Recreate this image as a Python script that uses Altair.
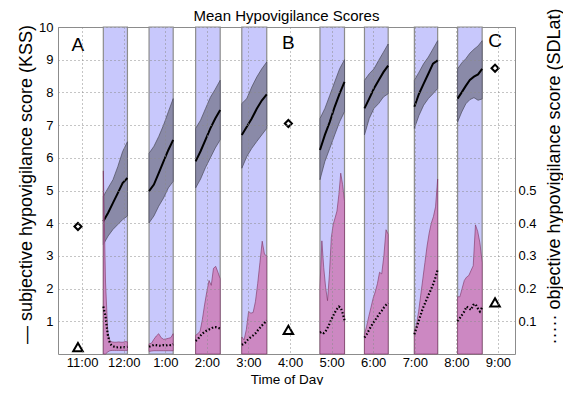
import altair as alt
import pandas as pd

# ---- driving sessions (hours of the day, 13 = 1 pm ... 21 = 9 pm)
band_start = [11.51, 12.61, 13.73, 14.84, 16.72, 17.79, 18.99, 20.03]
band_end = [12.09, 13.19, 14.32, 15.44, 17.31, 18.36, 19.55, 20.62]

# ---- subjective score (KSS): mean and band limits per session
kss_mean = [
    [4.06, 4.32, 4.62, 4.92, 5.23, 5.38],
    [4.98, 5.18, 5.53, 5.89, 6.24, 6.55],
    [5.89, 6.20, 6.55, 6.90, 7.20, 7.46],
    [6.70, 6.95, 7.20, 7.50, 7.75, 7.94],
    [6.24, 6.70, 7.10, 7.56, 7.96, 8.32],
    [7.51, 7.81, 8.12, 8.37, 8.62, 8.82],
    [7.56, 7.96, 8.27, 8.57, 8.88, 8.98],
    [7.81, 8.00, 8.20, 8.38, 8.48, 8.55, 8.72],
]
kss_hi = [
    [4.82, 5.08, 5.33, 5.73, 6.19, 6.49],
    [6.14, 6.35, 6.65, 7.00, 7.41, 7.81],
    [6.90, 7.15, 7.50, 7.85, 8.10, 8.37],
    [7.66, 7.81, 8.17, 8.47, 8.72, 8.93],
    [7.20, 7.51, 7.91, 8.32, 8.72, 9.00],
    [8.37, 8.57, 8.72, 8.98, 9.23, 9.48],
    [8.37, 8.62, 8.88, 9.08, 9.33, 9.58],
    [8.72, 8.90, 9.03, 9.20, 9.32, 9.42, 9.58],
]
kss_lo = [
    [3.35, 3.61, 3.81, 3.96, 4.11, 4.22],
    [4.01, 4.22, 4.52, 4.77, 5.08, 5.28],
    [5.08, 5.35, 5.70, 6.00, 6.30, 6.55],
    [5.68, 6.04, 6.29, 6.50, 6.70, 6.90],
    [5.33, 5.89, 6.29, 6.70, 7.10, 7.41],
    [6.70, 7.20, 7.51, 7.66, 7.86, 7.96],
    [6.90, 7.30, 7.61, 7.81, 7.96, 8.12],
    [7.10, 7.40, 7.65, 7.78, 7.84, 7.76, 7.80],
]

# ---- objective score (SDLat): mean and band limits per session
sd_mean = [
    [0.145, 0.115, 0.060, 0.032, 0.025, 0.022, 0.020, 0.021, 0.020, 0.020, 0.021, 0.022],
    [0.022, 0.025, 0.028, 0.027, 0.026, 0.025, 0.027, 0.026, 0.028, 0.027, 0.030],
    [0.040, 0.045, 0.055, 0.062, 0.068, 0.072, 0.075, 0.078, 0.082, 0.082, 0.080, 0.078],
    [0.028, 0.031, 0.038, 0.046, 0.052, 0.057, 0.063, 0.072, 0.080, 0.088, 0.095, 0.102],
    [0.065, 0.068, 0.064, 0.070, 0.080, 0.092, 0.105, 0.117, 0.128, 0.137, 0.145, 0.142, 0.125, 0.103],
    [0.050, 0.060, 0.072, 0.084, 0.095, 0.104, 0.114, 0.124, 0.132, 0.142, 0.150, 0.156],
    [0.060, 0.080, 0.100, 0.120, 0.140, 0.155, 0.170, 0.185, 0.200, 0.215, 0.235, 0.258],
    [0.100, 0.110, 0.120, 0.130, 0.145, 0.140, 0.135, 0.150, 0.153, 0.140, 0.130, 0.143],
]
sd_hi = [
    [0.560, 0.220, 0.070, 0.040, 0.037, 0.036, 0.036, 0.037, 0.036, 0.036, 0.038, 0.037],
    [0.031, 0.033, 0.045, 0.055, 0.062, 0.050, 0.045, 0.046, 0.048, 0.050, 0.062],
    [0.057, 0.062, 0.070, 0.105, 0.150, 0.190, 0.225, 0.210, 0.262, 0.268, 0.250, 0.230],
    [0.052, 0.043, 0.075, 0.130, 0.125, 0.127, 0.160, 0.215, 0.280, 0.345, 0.305, 0.300],
    [0.204, 0.346, 0.264, 0.204, 0.163, 0.244, 0.356, 0.396, 0.416, 0.437, 0.487, 0.553, 0.518, 0.467],
    [0.060, 0.085, 0.115, 0.142, 0.170, 0.190, 0.215, 0.250, 0.245, 0.300, 0.380, 0.366],
    [0.070, 0.090, 0.130, 0.180, 0.230, 0.280, 0.330, 0.370, 0.400, 0.420, 0.450, 0.535],
    [0.175, 0.175, 0.200, 0.225, 0.235, 0.240, 0.255, 0.270, 0.395, 0.375, 0.340, 0.280],
]
sd_lo = [
    [0.000, 0.000, 0.006, 0.010, 0.011, 0.011, 0.011, 0.011, 0.011, 0.011, 0.011, 0.011],
    [0.008, 0.009, 0.010, 0.010, 0.010, 0.010, 0.010, 0.010, 0.010, 0.010, 0.010],
    [0.0] * 12,
    [0.0] * 12,
    [0.0] * 14,
    [0.0] * 12,
    [0.0] * 12,
    [0.0] * 12,
]

# ---- single measurements outside the sessions (A, B, C)
mark_labels = ["A", "B", "C"]
mark_t = [10.90, 15.96, 20.93]
label_y = [9.27, 9.33, 9.39]
kss_single = [3.90, 7.05, 8.74]
sd_single = [0.021, 0.074, 0.158]

# ---- axes
hour_ticks = [11, 12, 13, 14, 15, 16, 17, 18, 19, 20, 21]
hour_labels = ["11:00", "12:00", "1:00", "2:00", "3:00", "4:00",
               "5:00", "6:00", "7:00", "8:00", "9:00"]
kss_ticks = [1, 2, 3, 4, 5, 6, 7, 8, 9, 10]
sd_ticks = [0.1, 0.2, 0.3, 0.4, 0.5]


def series_frame(mean, lo, hi):
    rows = []
    for b in range(len(band_start)):
        n = len(mean[b])
        for i in range(n):
            t = band_start[b] + (band_end[b] - band_start[b]) * i / (n - 1)
            rows.append({"band": b, "t": t, "mean": mean[b][i],
                         "lo": lo[b][i], "hi": hi[b][i]})
    return pd.DataFrame(rows)


kss_df = series_frame(kss_mean, kss_lo, kss_hi)
sd_df = series_frame(sd_mean, sd_lo, sd_hi)
bands_df = pd.DataFrame({"start": band_start, "end": band_end,
                         "bottom": [0] * len(band_start),
                         "top": [10] * len(band_start)})
single_df = pd.DataFrame({"t": mark_t, "label": mark_labels, "ly": label_y,
                          "kss": kss_single, "sd": sd_single})

FONT = "Liberation Sans"
label_expr = "[" + ",".join("'%s'" % s for s in hour_labels) + "][datum.value - 11]"

xscale = alt.Scale(domain=[10.42, 21.41], nice=False, zero=False)
yk = alt.Scale(domain=[0, 10], nice=False, zero=False)
ys = alt.Scale(domain=[0, 1], nice=False, zero=False)

common = dict(labelFont=FONT, labelFontSize=13, labelColor="black",
              titleFont=FONT, titleFontWeight="normal", titleColor="black",
              ticks=False, domain=False, zindex=1)

x_axis = alt.Axis(values=hour_ticks, labelExpr=label_expr, title="Time of Day",
                  grid=True, gridDash=[1, 3], gridColor="#8a8a8a",
                  labelPadding=2, titleFontSize=13.5, titleY=29,
                  titleBaseline="alphabetic", **common)
yk_axis = alt.Axis(values=kss_ticks, grid=True, gridDash=[1, 3],
                   gridColor="#8a8a8a", labelPadding=5,
                   title="\u2014 subjective hypovigilance score (KSS)",
                   titleFontSize=18, titleX=-27, titleY=157,
                   titleAngle=270, titleAlign="center",
                   titleBaseline="alphabetic", **common)
ys_axis = alt.Axis(orient="right", values=sd_ticks, grid=False,
                   labelPadding=3, labelAlign="left",
                   title="\u00b7\u00b7\u00b7\u00b7\u00b7 objective hypovigilance score (SDLat)",
                   titleFontSize=18, titleX=44, titleY=149,
                   titleAngle=270, titleAlign="center",
                   titleBaseline="alphabetic", **common)

X = lambda f: alt.X(f, scale=xscale, axis=x_axis)
YK = lambda f: alt.Y(f, scale=yk, axis=yk_axis)
YS = lambda f: alt.Y(f, scale=ys, axis=ys_axis)

bands = alt.Chart(bands_df).mark_rect(
    fill="#c8c8fc", stroke="#8c8c8c", strokeWidth=1.2
).encode(x=X("start:Q"), x2="end:Q", y=YK("bottom:Q"), y2="top:Q")

kss_band = alt.Chart(kss_df).mark_area(
    fill="#8a8aa8", stroke="#4a4a5a", strokeWidth=0.7
).encode(x=X("t:Q"), y=YK("lo:Q"), y2="hi:Q", detail="band:N")

kss_line = alt.Chart(kss_df).mark_line(color="black", strokeWidth=2).encode(
    x=X("t:Q"), y=YK("mean:Q"), detail="band:N")

diamonds = alt.Chart(single_df).mark_point(
    shape="diamond", filled=False, stroke="black", strokeWidth=2, size=50, opacity=1
).encode(x=X("t:Q"), y=YK("kss:Q"))

letters = alt.Chart(single_df).mark_text(
    font=FONT, fontSize=19, baseline="alphabetic", align="center", color="black"
).encode(x=X("t:Q"), y=YK("ly:Q"), text="label:N")

left = alt.layer(bands, kss_band, kss_line, diamonds, letters)

sd_band = alt.Chart(sd_df).mark_area(
    fill="#cc88c2", stroke="#7a3060", strokeWidth=0.6
).encode(x=X("t:Q"), y=YS("lo:Q"), y2="hi:Q", detail="band:N")

sd_line = alt.Chart(sd_df).mark_line(
    color="black", strokeWidth=2.2, strokeDash=[1.5, 2]
).encode(x=X("t:Q"), y=YS("mean:Q"), detail="band:N")

triangles = alt.Chart(single_df).mark_point(
    shape="triangle-up", filled=False, stroke="black", strokeWidth=2, size=90, opacity=1
).encode(x=X("t:Q"), y=YS("sd:Q"))

right = alt.layer(sd_band, sd_line, triangles)

chart = alt.layer(left, right).resolve_scale(y="independent").properties(
    width=457, height=327,
    background="white",
    autosize=alt.AutoSizeParams(type="none"),
    padding={"left": 50, "top": 19, "right": 48, "bottom": 31},
    title=alt.TitleParams("Mean Hypovigilance Scores", font=FONT, fontSize=15,
                          fontWeight="normal", color="black", frame="group",
                          anchor="middle", offset=0, dy=16),
).configure_view(
    stroke="#8c8c8c", strokeWidth=1
)

chart.save("out.html", embed_options={"renderer": "svg", "actions": False})
